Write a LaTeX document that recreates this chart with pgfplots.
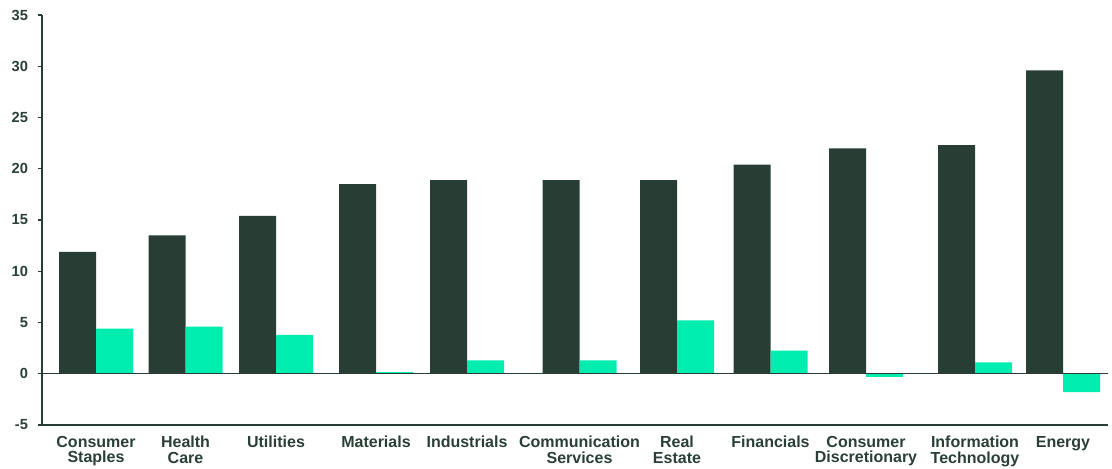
\documentclass[border=0pt]{standalone}
\usepackage{fontspec}
\setmainfont{Liberation Sans}
\usepackage{pgfplots}
\pgfplotsset{compat=1.18}
\definecolor{darkg}{HTML}{283D33}
\definecolor{mint}{HTML}{00EDB0}
\definecolor{txt}{HTML}{2A3F35}
\begin{document}
\begin{tikzpicture}[x=1pt,y=1pt]
\useasboundingbox (-31.5pt,-32.25pt) rectangle (802.5pt,318.75pt);
\begin{axis}[
  at={(0pt,0pt)}, anchor=south west,
  scale only axis, width=799.5pt, height=307.5pt,
  xmin=42, xmax=1108, ymin=-5, ymax=35,
  axis x line*=bottom, axis y line*=left,
  axis line style={draw=darkg, line width=1.1pt, -},
  ytick={-5,0,...,35},
  ytick style={draw=darkg, line width=0.8pt},
  tick align=outside, major tick length=3pt,
  xtick={96,185.5,276,376,467,579.5,677,770.5,866,975,1063},
  xticklabels={{Consumer\\Staples},{Health\\Care},{Utilities},{Materials},{Industrials},{Communication\\Services},{Real\\Estate},{Financials},{Consumer\\Discretionary},{Information\\Technology},{Energy}},
  x tick style={draw=none},
  x tick label style={align=center, font=\fontsize{12}{11.5}\selectfont\bfseries, text=txt, yshift=-2pt},
  y tick label style={font=\fontsize{11}{12}\selectfont\bfseries, text=txt, xshift=-4pt},
  /pgf/number format/assume math mode=true,
  ybar, bar width=37,
  clip=false,
]
\addplot[fill=darkg, draw=none, bar shift=-18.5] coordinates {
 (96,11.9) (185.5,13.5) (276,15.4) (376,18.5) (467,18.9) (579.5,18.9) (677,18.9) (770.5,20.4) (866,22.0) (975,22.3) (1063,29.6)};
\addplot[fill=mint, draw=none, bar shift=18.5] coordinates {
 (96,4.4) (185.5,4.6) (276,3.8) (376,0.15) (467,1.3) (579.5,1.3) (677,5.2) (770.5,2.25) (866,-0.3) (975,1.1) (1063,-1.8)};
\draw[darkg, line width=1pt] (axis cs:42,0) -- (axis cs:1108,0);
\end{axis}
\end{tikzpicture}
\end{document}
